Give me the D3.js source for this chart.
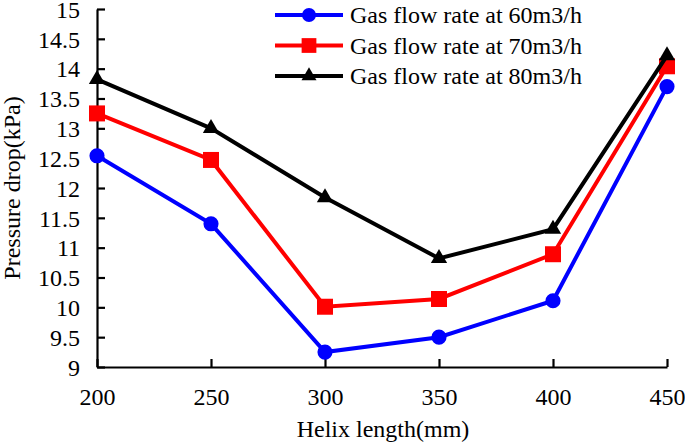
<!DOCTYPE html>
<html>
<head>
<meta charset="utf-8">
<script src="https://cdn.jsdelivr.net/npm/d3@7"></script>
<style>
  html, body { margin: 0; padding: 0; background: #fff; }
  svg { display: block; }
  text { font-family: "Liberation Serif", "Times New Roman", serif; fill: #000; }
</style>
</head>
<body>
<svg id="chart" width="685" height="443"></svg>
<script>
// ---- data ----
const helixLength = [200, 250, 300, 350, 400, 450];
const flow60 = [12.54, 11.40, 9.25, 9.50, 10.11, 13.70];
const flow70 = [13.25, 12.47, 10.01, 10.14, 10.89, 14.04];
const flow80 = [13.82, 13.00, 11.84, 10.82, 11.31, 14.22];
const seriesNames = ["Gas flow rate at 60m3/h", "Gas flow rate at 70m3/h", "Gas flow rate at 80m3/h"];
const xTicks = [200, 250, 300, 350, 400, 450];
const yTicks = [9, 9.5, 10, 10.5, 11, 11.5, 12, 12.5, 13, 13.5, 14, 14.5, 15];
const xTitle = "Helix length(mm)";
const yTitle = "Pressure drop(kPa)";

const FONT = "'Liberation Serif', 'Times New Roman', serif";

const series = [
  { name: seriesNames[0], values: flow60, color: "#0000ff", symbol: d3.symbolCircle, size: 180 },
  { name: seriesNames[1], values: flow70, color: "#ff0000", symbol: d3.symbolSquare, size: 256 },
  { name: seriesNames[2], values: flow80, color: "#000000", symbol: d3.symbolTriangle, size: 115 }
];

const svg = d3.select("#chart");
const mLeft = 97, mRight = 667, mTop = 9, mBottom = 367;

const x = d3.scaleLinear().domain([200, 450]).range([mLeft, mRight]);
const y = d3.scaleLinear().domain([9, 15]).range([mBottom, mTop]);

// axes
const xAxis = svg.append("g").attr("transform", `translate(0,${mBottom})`)
  .call(d3.axisBottom(x).tickValues(xTicks).tickFormat(d => String(d)).tickSize(-8).tickSizeOuter(0).tickPadding(21));
const yAxis = svg.append("g").attr("transform", `translate(${mLeft},0)`)
  .call(d3.axisLeft(y).tickValues(yTicks).tickFormat(d => String(d)).tickSize(-8).tickSizeOuter(0).tickPadding(17));

[xAxis, yAxis].forEach(a => {
  a.attr("font-family", null).attr("font-size", null);
  a.select(".domain").attr("stroke", "#000").attr("stroke-width", 2.2);
  a.selectAll(".tick line").attr("stroke", "#000").attr("stroke-width", 2.2);
  a.selectAll(".tick text").style("font-size", "24px").style("font-family", FONT).attr("fill", "#000");
});
xAxis.selectAll(".tick text").attr("dy", null).attr("y", 38);
yAxis.selectAll(".tick text").attr("dy", "0.34em");

// axis titles
svg.append("text").attr("x", (mLeft + mRight) / 2 + 1).attr("y", 437)
  .attr("text-anchor", "middle").style("font-size", "24px").style("font-family", FONT).text(xTitle);
svg.append("text").attr("transform", `translate(20,${(mTop + mBottom) / 2}) rotate(-90)`)
  .attr("text-anchor", "middle").style("font-size", "24px").style("font-family", FONT).text(yTitle);

// series
const line = d3.line().x((d, i) => x(helixLength[i])).y(d => y(d));
series.forEach(s => {
  svg.append("path").datum(s.values).attr("d", line)
    .attr("fill", "none").attr("stroke", s.color).attr("stroke-width", 4).attr("stroke-linejoin", "miter");
  svg.selectAll(null).data(s.values).enter().append("path")
    .attr("d", d3.symbol().type(s.symbol).size(s.size))
    .attr("transform", (d, i) => `translate(${x(helixLength[i])},${y(d)})`)
    .attr("fill", s.color);
});

// legend
const legend = svg.append("g");
series.forEach((s, i) => {
  const cy = 15 + i * 30.5;
  legend.append("line").attr("x1", 275).attr("x2", 343).attr("y1", cy).attr("y2", cy)
    .attr("stroke", s.color).attr("stroke-width", 4);
  legend.append("path").attr("d", d3.symbol().type(s.symbol).size(s.size * 0.85))
    .attr("transform", `translate(309,${cy})`).attr("fill", s.color);
  legend.append("text").attr("x", 350).attr("y", cy + 8)
    .style("font-size", "24px").style("font-family", FONT).text(s.name);
});
</script>
</body>
</html>
